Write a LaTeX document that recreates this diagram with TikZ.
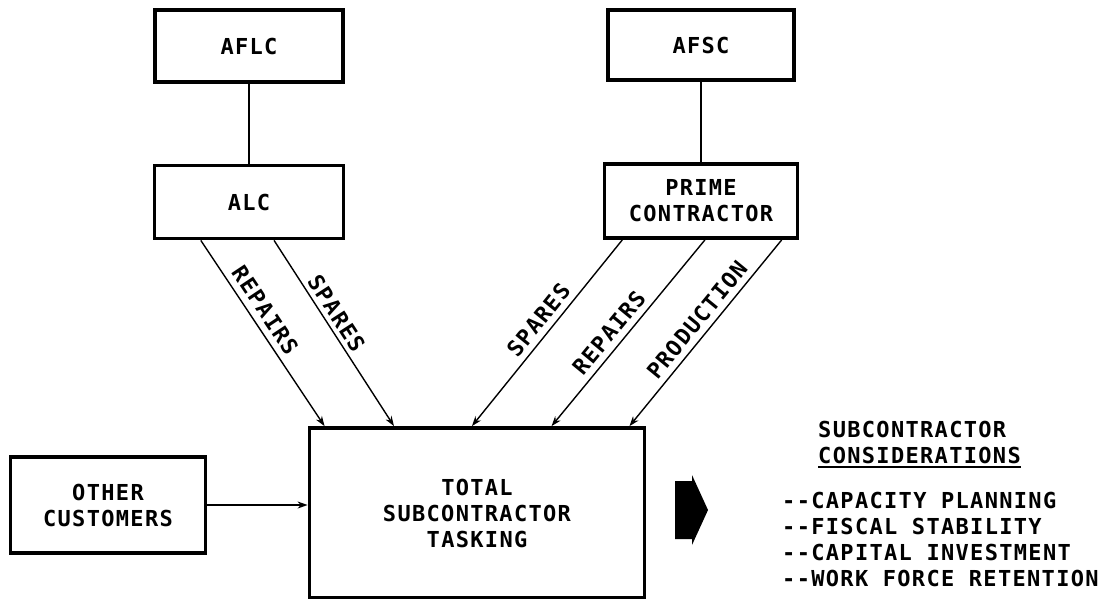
\documentclass[tikz,border=0pt]{standalone}
\usepackage{fontspec}
\newfontfamily\lettering[LetterSpace=6]{DejaVu Sans Mono}
\usetikzlibrary{arrows.meta}

\begin{document}
\begin{tikzpicture}[x=1pt, y=-1pt,
    box/.style={draw, line width=3.8pt, inner sep=0pt, align=center,
        font=\lettering\bfseries\fontsize{22}{26}\selectfont},
    link/.style={line width=1.4pt},
    feed/.style={line width=1.4pt, -{Stealth[length=10pt, width=7pt]}},
    lbl/.style={sloped, anchor=south, inner sep=6pt,
        font=\lettering\bfseries\fontsize{22}{26}\selectfont},
    note/.style={anchor=base west, inner sep=0pt,
        font=\lettering\bfseries\fontsize{22}{26}\selectfont}]
\useasboundingbox (0,0) rectangle (1105,598);
% draw boxes
\node[box, minimum width=188pt, minimum height=72pt] (aflc) at (249,46) {AFLC};
\node[box, minimum width=189pt, minimum height=73pt] (alc) at (249,202) {ALC};
\node[box, minimum width=186pt, minimum height=70pt] (afsc) at (701,45) {AFSC};
\node[box, minimum width=193pt, minimum height=74pt] (prime) at (701,201) {PRIME\\CONTRACTOR};
\node[box, minimum width=335pt, minimum height=170pt] (total) at (477,513) {TOTAL\\SUBCONTRACTOR\\TASKING};
\node[box, minimum width=195pt, minimum height=96pt] (other) at (108,505) {OTHER\\CUSTOMERS};
% draw command lines
\draw[link] (aflc) -- (alc);
\draw[link] (afsc) -- (prime);
% calculate flow points on box edges
\path (alc.south west) -- (alc.south east) coordinate[pos=.25] (a1) coordinate[pos=.63] (a2);
\path (prime.south west) -- (prime.south east) coordinate[pos=.10] (p1) coordinate[pos=.52] (p2) coordinate[pos=.91] (p3);
\path (total.north west) -- (total.north east) coordinate[pos=.05] (t1) coordinate[pos=.255] (t2)
    coordinate[pos=.485] (t3) coordinate[pos=.72] (t4) coordinate[pos=.95] (t5);
% draw task flows
\draw[feed] (a1) -- node[lbl, pos=.42] {REPAIRS} (t1);
\draw[feed] (a2) -- node[lbl, pos=.43, inner sep=4pt] {SPARES} (t2);
\draw[feed] (p1) -- node[lbl, pos=.48] {SPARES} (t3);
\draw[feed] (p2) -- node[lbl, pos=.55] {REPAIRS} (t4);
\draw[feed] (p3) -- node[lbl, pos=.48] {PRODUCTION} (t5);
\draw[feed] (other.east) -- (other.east -| total.west);
% draw big arrow
\fill (675,481) -- (692,481) -- (692,475) -- (708,510) -- (692,545) -- (692,539) -- (675,539) -- cycle;
% considerations
\node[note] (subc) at (818,437) {SUBCONTRACTOR};
\node[note] (cons) at (818,463) {CONSIDERATIONS};
\draw[line width=2pt] ([yshift=-4pt]cons.base west) -- ([yshift=-4pt]cons.base east);
\foreach \txt [count=\i] in {CAPACITY PLANNING, FISCAL STABILITY, CAPITAL INVESTMENT, WORK FORCE RETENTION}
    \node[note] (c\i) at (782,482+26*\i) {-{}-\txt};
\end{tikzpicture}
\end{document}
